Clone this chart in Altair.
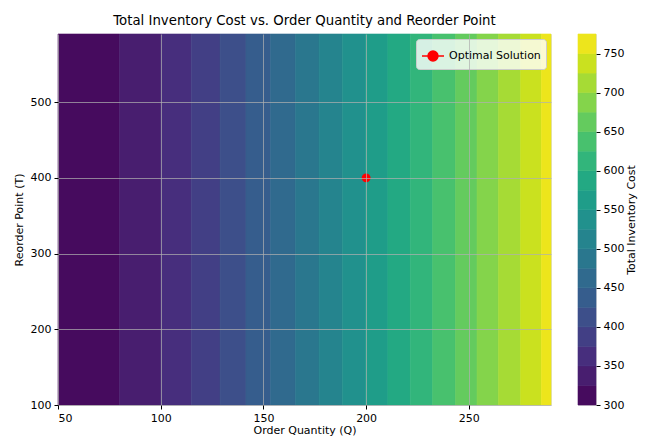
import altair as alt
import pandas as pd

# Band edges along Order Quantity (Q); cost only varies with Q
q_edges = [50, 79.9, 100.1, 114.9, 128.9, 141.5, 153.5, 165.6, 177.1, 188.4, 199.7,
           210.6, 221.5, 232.3, 243.5, 254.0, 264.4, 275.2, 285.3, 290]
# Contour levels (Total Inventory Cost)
levels = [300, 325, 350, 375, 400, 425, 450, 475, 500, 525, 550, 575, 600, 625,
          650, 675, 700, 725, 750, 775]
t_min, t_max = 100, 590
opt_q = [200]
opt_t = [400]
opt_label = ["Optimal Solution"]

bands = pd.DataFrame({
    "q0": q_edges[:-1],
    "q1": q_edges[1:],
    "t0": [t_min] * (len(q_edges) - 1),
    "t1": [t_max] * (len(q_edges) - 1),
    "mid": [(levels[i] + levels[i + 1]) / 2 for i in range(len(levels) - 1)],
})
cbar = pd.DataFrame({
    "lo": levels[:-1],
    "hi": levels[1:],
    "mid": [(levels[i] + levels[i + 1]) / 2 for i in range(len(levels) - 1)],
})
opt = pd.DataFrame({"Q": opt_q, "T": opt_t, "label": opt_label})

FONT = "DejaVu Sans"
FS = 11
color_scale = alt.Scale(domain=[levels[0], levels[-1]], scheme="viridis")

xscale = alt.Scale(domain=[50, 290], nice=False, zero=False)
yscale = alt.Scale(domain=[t_min, t_max], nice=False, zero=False)

common_axis = dict(domain=False, tickColor="black", labelColor="black", tickSize=4,
                   labelPadding=3, labelFontSize=FS, titleFontSize=FS,
                   titleFontWeight="normal", labelFont=FONT, titleFont=FONT,
                   titleColor="black")
grid_axis = dict(gridColor="#b0b0b0", gridWidth=0.8, gridOpacity=0.9, zindex=1,
                 **common_axis)

rects = alt.Chart(bands).mark_rect(strokeWidth=0.6).encode(
    x=alt.X("q0:Q", scale=xscale,
            axis=alt.Axis(title="Order Quantity (Q)", values=[50, 100, 150, 200, 250],
                          titlePadding=1, **grid_axis)),
    x2="q1:Q",
    y=alt.Y("t0:Q", scale=yscale,
            axis=alt.Axis(title="Reorder Point (T)", values=[100, 200, 300, 400, 500],
                          titlePadding=6, **grid_axis)),
    y2="t1:Q",
    color=alt.Color("mid:Q", scale=color_scale, legend=None),
    stroke=alt.Stroke("mid:Q", scale=color_scale, legend=None),
)

legend_path = ("M-1,0L1,0M-0.45,0A0.45,0.45,0,1,1,0.45,0"
               "A0.45,0.45,0,1,1,-0.45,0Z")

point = alt.Chart(opt).mark_point(filled=True, size=80, opacity=1).encode(
    x="Q:Q",
    y="T:Q",
    color=alt.Color("label:N",
                    scale=alt.Scale(domain=opt_label, range=["red"]),
                    legend=alt.Legend(title=None, orient="top-right", offset=5,
                                      symbolType=legend_path, symbolSize=484,
                                      symbolStrokeColor="red", symbolStrokeWidth=1.5,
                                      symbolFillColor="red",
                                      labelFontSize=FS, labelFont=FONT,
                                      labelColor="black",
                                      fillColor="rgba(255,255,255,0.8)",
                                      strokeColor="#cccccc", cornerRadius=3,
                                      padding=5)),
)

main = alt.layer(rects, point).resolve_scale(color="independent").properties(
    width=493, height=371,
    title=alt.TitleParams("Total Inventory Cost vs. Order Quantity and Reorder Point",
                          fontSize=13.3, font=FONT, fontWeight="normal", color="black",
                          offset=6, anchor="middle"),
)

colorbar = alt.Chart(cbar).mark_rect(strokeWidth=0.6).encode(
    x=alt.value(0),
    x2=alt.value(18),
    y=alt.Y("lo:Q", scale=alt.Scale(domain=[levels[0], levels[-1]], nice=False, zero=False),
            axis=alt.Axis(orient="right", title="Total Inventory Cost",
                          values=[300, 350, 400, 450, 500, 550, 600, 650, 700, 750],
                          grid=False, titleAngle=270, titleBaseline="top",
                          titlePadding=2, **common_axis)),
    y2="hi:Q",
    color=alt.Color("mid:Q", scale=color_scale, legend=None),
    stroke=alt.Stroke("mid:Q", scale=color_scale, legend=None),
).properties(width=18, height=371)

chart = alt.hconcat(main, colorbar, spacing=25).properties(
    padding={"left": 4, "top": 5, "right": 0, "bottom": 0}
).configure_view(
    stroke="black", strokeWidth=1
).configure(background="white")

chart.save("out.html", embed_options={"renderer": "svg", "actions": False})
